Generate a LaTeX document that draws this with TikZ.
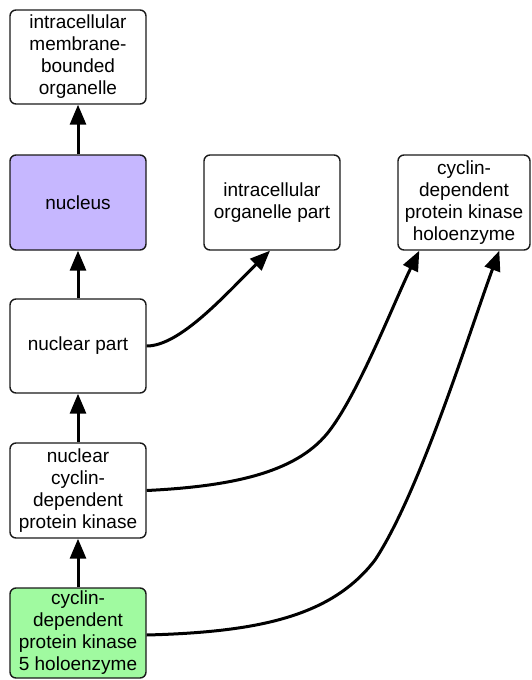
\documentclass[tikz,border=0pt]{standalone}
\usepackage{fontspec}
\setmainfont{Liberation Sans}
\usetikzlibrary{arrows.meta,calc}
\definecolor{nucfill}{HTML}{C6B7FF}
\definecolor{cdkfill}{HTML}{A0FAA0}
\definecolor{edgegray}{HTML}{1A1A1A}
\begin{document}
\begin{tikzpicture}[x=1pt,y=-1pt,
  term/.style={draw=edgegray, line width=1.4pt, rounded corners=6pt, fill=white,
    minimum width=136pt, minimum height=95pt, inner sep=2pt, align=center,
    font=\fontsize{19}{22}\selectfont},
  isa/.style={line width=3pt, -{Triangle[length=20pt,width=16pt]}}]
  \useasboundingbox (0,0) rectangle (531,680);

  % terms
  \node[term, minimum height=94pt] (mbo) at (78,57) {intracellular\\membrane-\\bounded\\organelle};
  \node[term, fill=nucfill] (nuc) at (78,202.5) {nucleus};
  \node[term] (iop) at (272,202.5) {intracellular\\organelle part};
  \node[term, minimum width=132pt] (cdkh) at (464,202.5) {cyclin-\\dependent\\protein kinase\\holoenzyme};
  \node[term, minimum height=94pt] (np) at (78,346) {nuclear part};
  \node[term] (ncdk) at (78,490.5) {nuclear\\cyclin-\\dependent\\protein kinase};
  \node[term, fill=cdkfill, minimum height=90pt] (cdk5) at (78,633) {cyclin-\\dependent\\protein kinase\\5 holoenzyme};

  % is_a edges
  \draw[isa] (nuc.north) -- (mbo.south);
  \draw[isa] (np.north) -- (nuc.south);
  \draw[isa] (ncdk.north) -- (np.south);
  \draw[isa] (cdk5.north) -- (ncdk.south);

  \draw[isa] (np.east) .. controls (180,346) and (225,295) .. ($(iop.south)+(-2,0)$);
  \draw[isa] (ncdk.east) .. controls (240,486) and (300,470) .. (330,430)
             .. controls (360,390) and (395,300) .. ($(cdkh.south west)+(22,0)$);
  \draw[isa] ($(cdk5.east)+(0,2)$) .. controls (260,632) and (332,616) .. (375,560)
             .. controls (420,492) and (470,330) .. ($(cdkh.south west)+(102,0)$);
\end{tikzpicture}
\end{document}
